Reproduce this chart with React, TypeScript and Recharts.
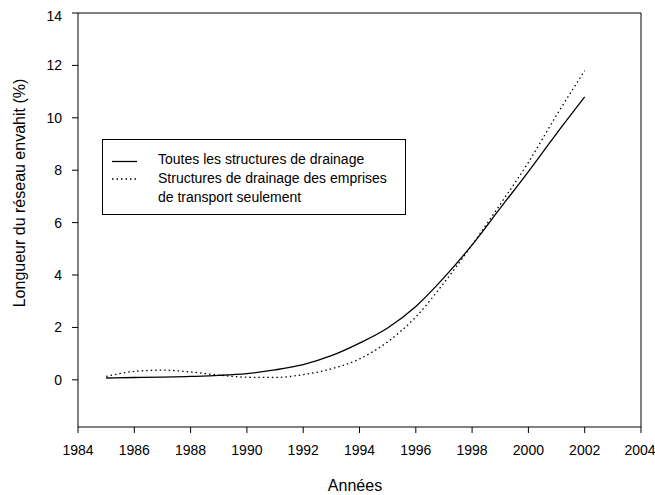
import React from 'react';

import {
  LineChart,
  Line,
  XAxis,
  YAxis,
  Legend,
  ReferenceLine,
} from 'recharts';

const years = [
  1985, 1986, 1987, 1988, 1989, 1990, 1991, 1992, 1993, 1994, 1995, 1996,
  1997, 1998, 1999, 2000, 2001, 2002,
];
// Toutes les structures de drainage
const toutes = [
  0.07, 0.09, 0.1, 0.13, 0.17, 0.24, 0.38, 0.58, 0.92, 1.4, 1.98, 2.8, 3.9,
  5.15, 6.55, 7.95, 9.4, 10.8,
];
// Structures des emprises de transport seulement
const emprises = [
  0.13, 0.32, 0.37, 0.3, 0.18, 0.1, 0.09, 0.2, 0.42, 0.8, 1.45, 2.4, 3.7,
  5.15, 6.7, 8.3, 10.1, 11.8,
];
const xTicks = [1984, 1986, 1988, 1990, 1992, 1994, 1996, 1998, 2000, 2002, 2004];
const yTicks = [0, 2, 4, 6, 8, 10, 12, 14];

const data = years.map((annee, i) => ({
  annee,
  toutes: toutes[i],
  emprises: emprises[i],
}));

const font = '"Liberation Sans", Arial, sans-serif';

// last label sits on the page edge, nudge it in a bit
const XTick = ({ x, y, payload }: any) => (
  <text
    x={x}
    y={y}
    dy="0.71em"
    dx={payload.value === 2004 ? -1 : 0}
    textAnchor="middle"
    fontSize={14}
    fontFamily={font}
    fill="#000"
  >
    {payload.value}
  </text>
);

const renderLegend = () => (
  <svg width={305} height={77} style={{ display: 'block' }}>
    <rect x={0.5} y={0.5} width={303} height={75} fill="#fff" stroke="#000" />
    <line x1={10} x2={35} y1={22.5} y2={22.5} stroke="#000" strokeWidth={1.3} />
    <line
      x1={10}
      x2={35}
      y1={40}
      y2={40}
      stroke="#000"
      strokeWidth={1.3}
      strokeDasharray="1.5 3"
    />
    <g fontFamily={font} fontSize={14} fill="#000">
      <text x={56} y={25}>Toutes les structures de drainage</text>
      <text x={56} y={44}>Structures de drainage des emprises</text>
      <text x={56} y={63}>de transport seulement</text>
    </g>
  </svg>
);

const App = () => {
  return (
    <div
      style={{
        width: 655,
        height: 495,
        padding: '8px 0 0 5px',
        boxSizing: 'border-box',
        overflow: 'hidden',
      }}
    >
      <style>{'body { margin: 0; }'}</style>
      <LineChart
        width={650}
        height={487}
        data={data}
        margin={{ top: 5, right: 14, left: 0, bottom: 8 }}
        style={{ fontFamily: font }}
      >
        <XAxis
          dataKey="annee"
          type="number"
          domain={[1984, 2004]}
          ticks={xTicks}
          interval={0}
          height={60}
          stroke="#000"
          tickSize={6}
          tickMargin={12}
          tick={<XTick />}
          label={{
            content: () => (
              <text
                x={350}
                y={483}
                textAnchor="middle"
                fontSize={16}
                fontFamily={font}
                fill="#000"
              >
                Années
              </text>
            ),
          }}
        />
        <YAxis
          type="number"
          domain={[-1.8, 14]}
          ticks={yTicks}
          width={73}
          stroke="#000"
          tickSize={6}
          tickMargin={10}
          tick={{ fill: '#000', fontSize: 14 }}
          label={{
            content: () => (
              <text
                x={20}
                y={185}
                transform="rotate(-90, 20, 185)"
                textAnchor="middle"
                fontSize={16}
                fontFamily={font}
                fill="#000"
              >
                Longueur du réseau envahit (%)
              </text>
            ),
          }}
        />
        <ReferenceLine y={14} stroke="#000" />
        <ReferenceLine x={2004} stroke="#000" />
        <Legend
          layout="horizontal"
          verticalAlign="middle"
          align="center"
          content={renderLegend}
          wrapperStyle={{ left: 97, top: 131, width: 305, height: 77 }}
        />
        <Line
          type="monotone"
          dataKey="toutes"
          stroke="#000"
          strokeWidth={1.3}
          dot={false}
          isAnimationActive={false}
        />
        <Line
          type="monotone"
          dataKey="emprises"
          stroke="#000"
          strokeWidth={1.3}
          strokeDasharray="1.5 3"
          dot={false}
          isAnimationActive={false}
        />
      </LineChart>
    </div>
  );
};

export default App;
